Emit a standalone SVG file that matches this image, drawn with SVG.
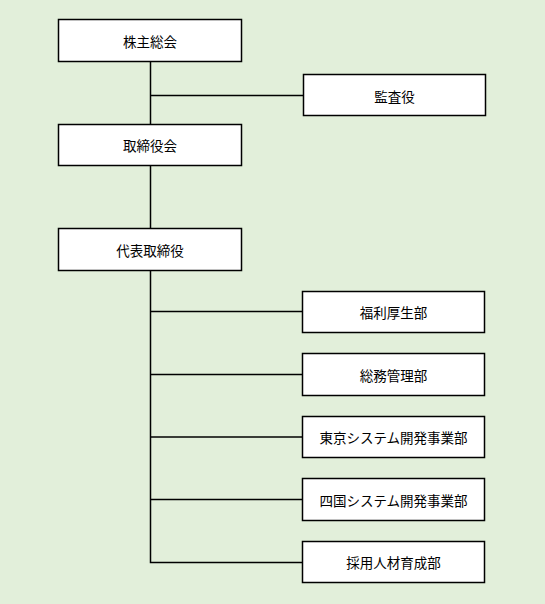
<svg xmlns="http://www.w3.org/2000/svg" width="545" height="604" viewBox="0 0 545 604">
<style>
.box{fill:#ffffff;stroke:#000000;stroke-width:1.5}
.lbl{font-family:"Noto Sans CJK JP","Noto Sans",sans-serif;font-size:13.5px;fill:#000000;text-anchor:middle;dominant-baseline:central}
.ln{stroke:#000000;stroke-width:1.5;fill:none}
</style>
<rect x="0" y="0" width="545" height="604" fill="#e2efda"/>
<g id="connectors">
<line class="ln" x1="150.5" y1="61" x2="150.5" y2="124.5"/>
<line class="ln" x1="150.5" y1="95.5" x2="303.5" y2="95.5"/>
<line class="ln" x1="150.5" y1="165" x2="150.5" y2="228.5"/>
<polyline class="ln" points="150.5,270 150.5,562.5 302.5,562.5"/>
<line class="ln" x1="150.5" y1="311.5" x2="302.5" y2="311.5"/>
<line class="ln" x1="150.5" y1="374.5" x2="302.5" y2="374.5"/>
<line class="ln" x1="150.5" y1="437" x2="302.5" y2="437"/>
<line class="ln" x1="150.5" y1="499.5" x2="302.5" y2="499.5"/>
</g>
<g id="n1"><rect class="box" x="58.5" y="19.5" width="183" height="42"/><text class="lbl" x="150" y="41">株主総会</text></g>
<g id="n2"><rect class="box" x="303.5" y="74.5" width="182" height="41"/><text class="lbl" x="394.5" y="95.5">監査役</text></g>
<g id="n3"><rect class="box" x="58.5" y="124.5" width="183" height="41"/><text class="lbl" x="150" y="145">取締役会</text></g>
<g id="n4"><rect class="box" x="58.5" y="228.5" width="183" height="42"/><text class="lbl" x="150" y="249.5">代表取締役</text></g>
<g id="n5"><rect class="box" x="302.5" y="291.5" width="182" height="41"/><text class="lbl" x="393.5" y="312">福利厚生部</text></g>
<g id="n6"><rect class="box" x="302.5" y="353.5" width="182" height="42"/><text class="lbl" x="393.5" y="374.5">総務管理部</text></g>
<g id="n7"><rect class="box" x="302.5" y="416.5" width="182" height="41"/><text class="lbl" x="393.5" y="437">東京システム開発事業部</text></g>
<g id="n8"><rect class="box" x="302.5" y="478.5" width="182" height="42"/><text class="lbl" x="393.5" y="499.5">四国システム開発事業部</text></g>
<g id="n9"><rect class="box" x="302.5" y="541.5" width="182" height="41"/><text class="lbl" x="393.5" y="562">採用人材育成部</text></g>
</svg>
